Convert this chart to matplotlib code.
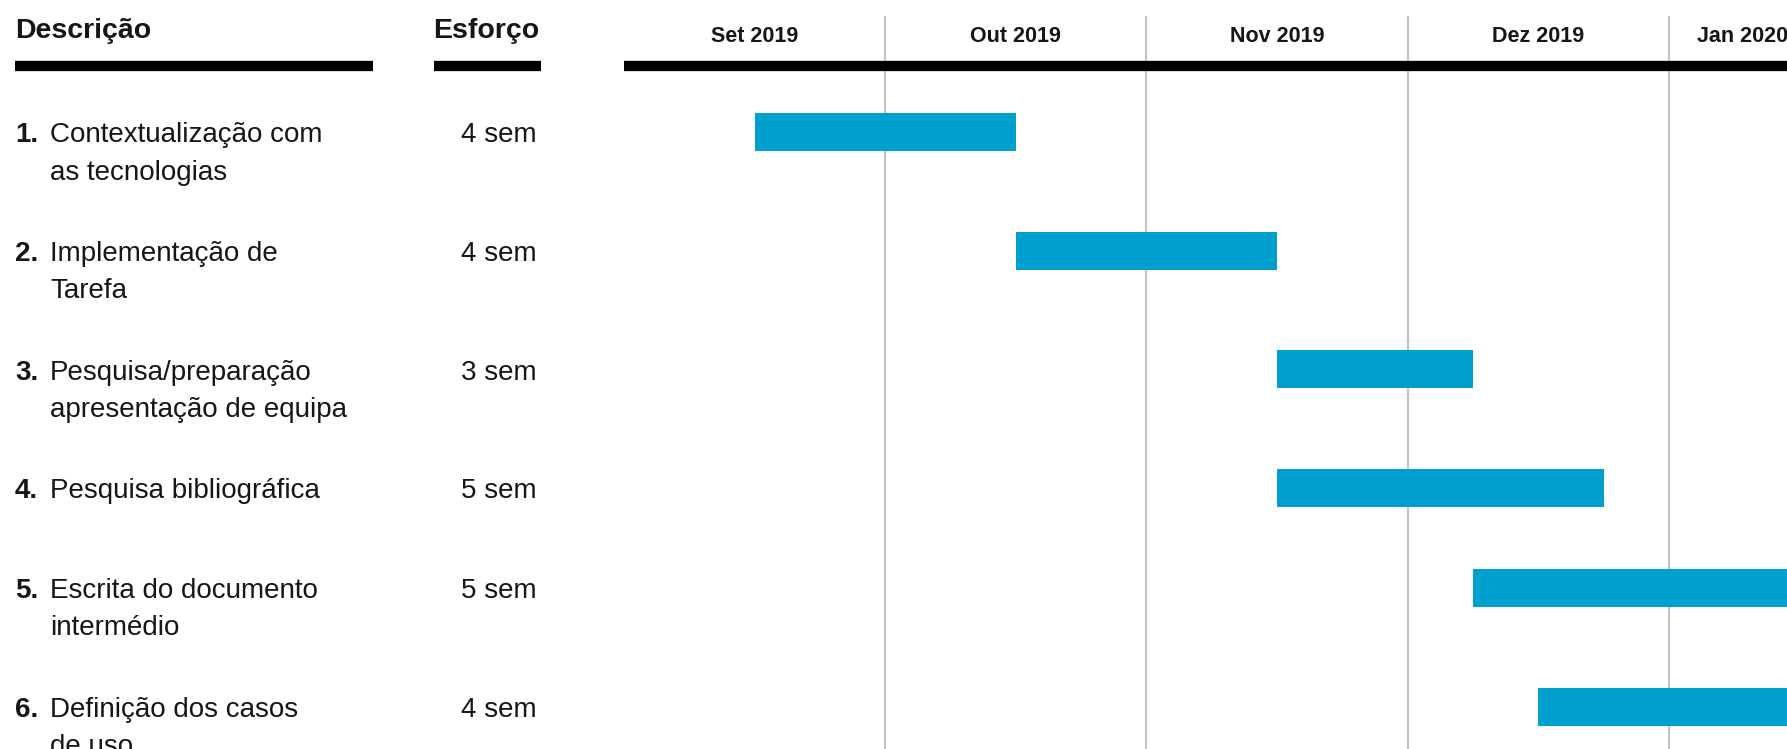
import matplotlib
matplotlib.use("Agg")
import matplotlib.pyplot as plt
from matplotlib.patches import Rectangle

plt.rcParams['font.family'] = ['Liberation Sans', 'DejaVu Sans']

# chart data
descricao = [
    "Contextualização com\nas tecnologias",
    "Implementação de\nTarefa",
    "Pesquisa/preparação\napresentação de equipa",
    "Pesquisa bibliográfica",
    "Escrita do documento\nintermédio",
    "Definição dos casos\nde uso",
]
esforco_sem = [4, 4, 3, 5, 5, 4]     # duration in weeks
inicio_sem = [2, 6, 10, 10, 13, 14]  # start, weeks after 1 Sep 2019
meses = ["Set 2019", "Out 2019", "Nov 2019", "Dez 2019", "Jan 2020"]
sem_por_mes = 4

W, H = 1787, 749
BAR_COLOR = "#00a0ce"
TEXT_COLOR = "#161616"
GRID_COLOR = "#c4c4c4"

fig = plt.figure(figsize=(W / 100, H / 100), dpi=100)

# left part: text table in pixel units
tab = fig.add_axes([0, 0, 1, 1])
tab.set_xlim(0, W)
tab.set_ylim(H, 0)
tab.axis("off")

# right part: timeline in weeks, y in the same pixel units
gantt_left = 624
gantt = fig.add_axes([gantt_left / W, 0, 1 - gantt_left / W, 1])
week_px = 65.3
gantt.set_xlim(0, (W - gantt_left) / week_px)
gantt.set_ylim(H, 0)
gantt.axis("off")

# row layout: rows with two lines of text are a bit taller
line_gap = 37
row_y = []
y = 132
for d in descricao:
    row_y.append(y)
    y += 81.6 + 18.5 * len(d.split("\n"))

# headers
tab.text(15, 37.5, "Descrição", fontsize=20.5, fontweight="bold",
         color=TEXT_COLOR, va="baseline", ha="left")
tab.text(539, 37.5, "Esforço", fontsize=20.5, fontweight="bold",
         color=TEXT_COLOR, va="baseline", ha="right")
tab.plot([15, 373], [65.5, 65.5], color="black", lw=7.4, solid_capstyle="butt")
tab.plot([434, 541], [65.5, 65.5], color="black", lw=7.4, solid_capstyle="butt")

# task rows
for i, (d, e, ry) in enumerate(zip(descricao, esforco_sem, row_y)):
    base = ry + 10.5
    tab.text(15, base, f"{i + 1}.", fontsize=20, fontweight="bold",
             color=TEXT_COLOR, va="baseline", ha="left")
    for k, line in enumerate(d.split("\n")):
        tab.text(50, base + k * line_gap, line, fontsize=20,
                 color=TEXT_COLOR, va="baseline", ha="left")
    tab.text(537, base, f"{e} sem", fontsize=20, color=TEXT_COLOR,
             va="baseline", ha="right")

# month grid lines and labels
xmax = gantt.get_xlim()[1]
for m, label in enumerate(meses):
    start = m * sem_por_mes
    if m > 0:
        gantt.plot([start, start], [17, H], color=GRID_COLOR, lw=1.5, zorder=1)
    center = start + sem_por_mes / 2
    if center + 0.7 > xmax:
        gantt.text(xmax + 0.02, 42.5, label, fontsize=15.5, fontweight="bold",
                   color=TEXT_COLOR, ha="right", va="baseline")
    else:
        gantt.text(center, 42.5, label, fontsize=15.5, fontweight="bold",
                   color=TEXT_COLOR, ha="center", va="baseline")

gantt.plot([0, xmax], [65.5, 65.5], color="black", lw=7.4,
           solid_capstyle="butt", zorder=3)

# task bars
gantt.barh(row_y, esforco_sem, left=inicio_sem, height=38,
           color=BAR_COLOR, zorder=2)

fig.savefig("out.png", dpi=100, facecolor="white")
